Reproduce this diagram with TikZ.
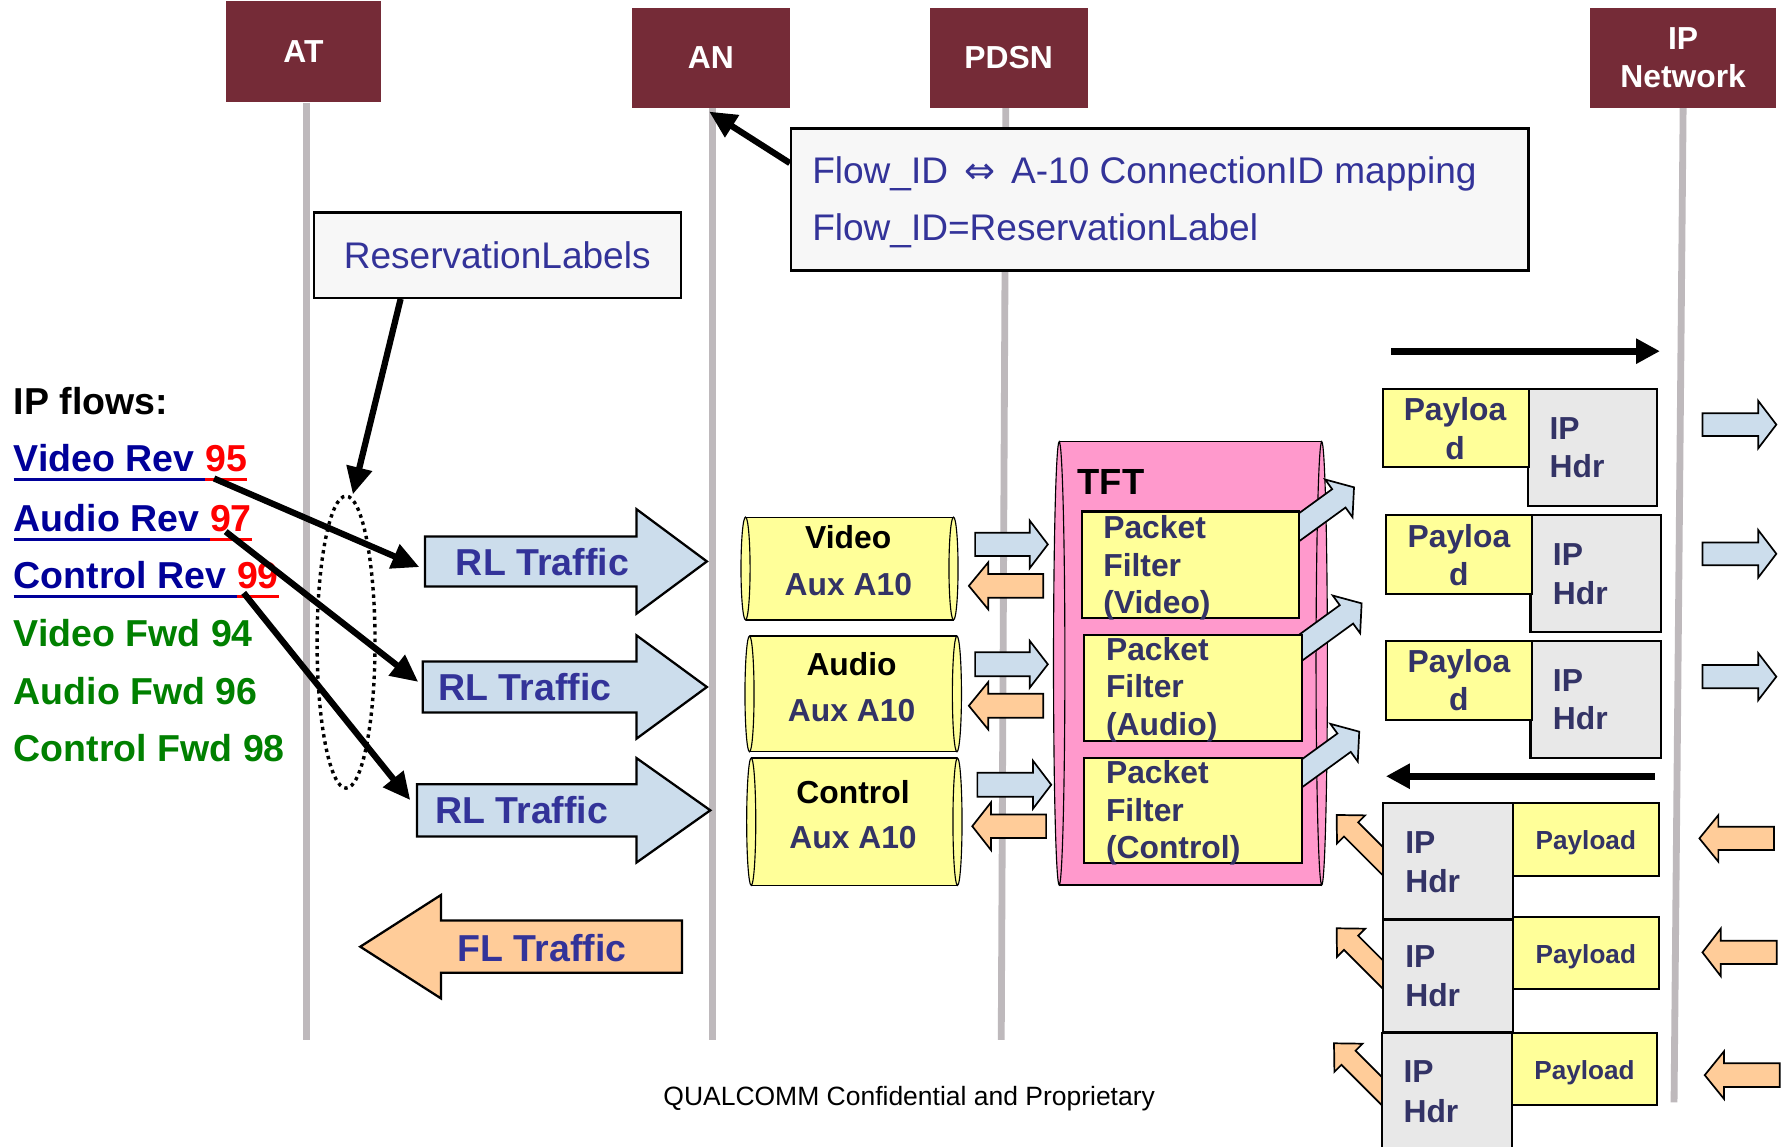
\documentclass[tikz,border=0pt]{standalone}
\usepackage{fontspec}
\setmainfont{Liberation Sans}
\newfontfamily\djv{DejaVu Sans}
\usetikzlibrary{arrows.meta,shapes.geometric}
\definecolor{cHdr}{RGB}{117,43,55}
\definecolor{cLife}{RGB}{190,185,188}
\definecolor{cLBlue}{RGB}{204,221,236}
\definecolor{cPeach}{RGB}{255,204,153}
\definecolor{cYel}{RGB}{255,255,153}
\definecolor{cPink}{RGB}{255,153,204}
\definecolor{cGray}{RGB}{232,232,232}
\definecolor{cBoxBg}{RGB}{247,247,247}
\definecolor{cNavy}{RGB}{51,51,153}
\definecolor{cDNavy}{RGB}{51,51,102}
\definecolor{cRevBlue}{RGB}{0,0,153}
\definecolor{cFwdGreen}{RGB}{0,128,0}
\newcommand\rarr[7]{\filldraw[#7] (#1,{#4-#5}) -- (#2,{#4-#5}) -- (#2,{#4-#6}) -- (#3,#4) -- (#2,{#4+#6}) -- (#2,{#4+#5}) -- (#1,{#4+#5}) -- cycle;}
\newcommand\mycyl[6]{%
 \pgfmathsetmacro\cyh{(#4-#2)/2}%
 \pgfmathsetmacro\cym{(#4+#2)/2}%
 \fill[#5] ({#1+#6},#2) -- ({#3-#6},#2) arc[start angle=90,end angle=-90,x radius=#6pt,y radius=\cyh pt] -- ({#1+#6},#4) arc[start angle=270,end angle=90,x radius=#6pt,y radius=\cyh pt] -- cycle;
 \draw[line width=1pt] ({#1+#6},#2) -- ({#3-#6},#2) ({#1+#6},#4) -- ({#3-#6},#4);
 \draw[line width=1pt] ({#1+#6},\cym) ellipse [x radius=#6pt, y radius=\cyh pt];
 \draw[line width=1pt] ({#3-#6},\cym) ellipse [x radius=#6pt, y radius=\cyh pt];
}
\tikzset{
 hdrbox/.style={fill=cHdr, inner sep=0pt, text=white, font=\bfseries\fontsize{28}{33.5}\selectfont, align=center},
 life/.style={draw=cLife, line width=6pt},
 notebox/.style={fill=cBoxBg, draw=black, line width=2pt, inner sep=0pt},
 notetxt/.style={text=cNavy, font=\fontsize{32.6}{38}\selectfont, inner sep=0pt},
 flowtxt/.style={font=\bfseries\fontsize{33}{38}\selectfont, inner sep=0pt, anchor=base west},
 thickarr/.style={line width=5.5pt, -{Triangle[length=24pt,width=22pt]}},
 bigblue/.style={fill=cLBlue, draw=black, line width=2pt},
 bigpeach/.style={fill=cPeach, draw=black, line width=2pt},
 smallblue/.style={fill=cLBlue, draw=black, line width=1.5pt},
 smallpeach/.style={fill=cPeach, draw=black, line width=1.5pt},
 trafftxt/.style={text=cNavy, font=\bfseries\fontsize{33}{38}\selectfont, inner sep=0pt, anchor=base west},
 cyltxt/.style={font=\bfseries\fontsize{28}{33}\selectfont, inner sep=0pt, anchor=base},
 pftxt/.style={text=cDNavy, font=\bfseries\fontsize{28}{33}\selectfont, inner sep=0pt, anchor=base west},
 pktxt/.style={text=cDNavy, font=\bfseries\fontsize{28}{33}\selectfont, inner sep=0pt},
 pltxt/.style={text=cDNavy, font=\bfseries\fontsize{23}{28}\selectfont, inner sep=0pt, anchor=base},
 yelbox/.style={fill=cYel, draw=black, line width=2pt},
 graybox/.style={fill=cGray, draw=black, line width=2pt},
 blackarr/.style={line width=6pt, -{Triangle[length=21pt,width=21pt]}},
}
\begin{document}
\begin{tikzpicture}[x=1pt,y=-1pt]
\fill[white] (0,0) rectangle (1568,1009);
\useasboundingbox (0,0) rectangle (1568,1009);

% headers
\node[hdrbox, minimum width=136pt, minimum height=89pt] (at) at (267,45.5) {AT};
\node[hdrbox, minimum width=139pt, minimum height=88pt] (an) at (625.5,51) {AN};
\node[hdrbox, minimum width=139pt, minimum height=88pt] (pdsn) at (887.5,51) {PDSN};
\node[hdrbox, minimum width=164pt, minimum height=88pt] (ipn) at (1481,51) {IP\\Network};

% lifelines
\coordinate (atend) at (270,915);
\coordinate (anend) at (627,915);
\coordinate (pdend) at (881,915);
\coordinate (ipend) at (1473,970);
\draw[life] (at.south -| atend) -- (atend);
\draw[life] (an.south -| anend) -- (anend);
\draw[life] ([xshift=-2.5pt]pdsn.south) -- (pdend);
\draw[life] (ipn.south) -- (ipend);

% notes
\node[notebox, notetxt, minimum width=323pt, minimum height=75pt] (resv) at (437.5,224.5) {ReservationLabels};
\node[notebox, minimum width=649pt, minimum height=125pt] (mapbox) at (1020.5,175.5) {};
\node[notetxt, anchor=base west] (map1) at (714.5,161.3) {Flow\_ID\hspace{5pt} {\djv ⇔}\hspace{5pt} A-10 ConnectionID mapping};
\node[notetxt, anchor=base west] (map2) at (714.5,211.8) {Flow\_ID=ReservationLabel};
\draw[thickarr] ([yshift=32pt]mapbox.west) -- ([xshift=-1.5pt,yshift=-3pt]an.south);

% dotted ellipse
\node[draw=black, dash pattern=on 3pt off 3.5pt, line width=3pt, ellipse, minimum width=51pt, minimum height=257pt, inner sep=0pt] (ell) at (304.5,565) {};
\draw[thickarr] ([xshift=-85pt]resv.south) -- ([xshift=6pt]ell.north);

% IP flows
\node[flowtxt] (ipf) at (12,365) {IP flows:};
\node[flowtxt, text=cRevBlue] (vr1) at (12,415) {Video Rev};
\node[flowtxt, text=red] (vr2) at ([xshift=9pt]vr1.base east) {95};
\node[flowtxt, text=cRevBlue] (ar1) at (12,467.8) {Audio Rev};
\node[flowtxt, text=red] (ar2) at ([xshift=9pt]ar1.base east) {97};
\node[flowtxt, text=cRevBlue] (cr1) at (12,517.7) {Control Rev};
\node[flowtxt, text=red] (cr2) at ([xshift=9pt]cr1.base east) {99};
\node[flowtxt, text=cFwdGreen] (vf) at (12,569) {Video Fwd 94};
\node[flowtxt, text=cFwdGreen] (af) at (12,619.7) {Audio Fwd 96};
\node[flowtxt, text=cFwdGreen] (cf) at (12,670.2) {Control Fwd 98};
\foreach \a/\b in {vr1/vr2,ar1/ar2,cr1/cr2}{
 \draw[cRevBlue, line width=3pt] ([yshift=-7pt]\a.base west) -- ([yshift=-7pt]\b.base west);
 \draw[red, line width=3pt] ([yshift=-7pt]\b.base west) -- ([yshift=-7pt]\b.base east);
}

% RL / FL traffic arrows
\rarr{374}{560}{622}{494}{22}{46}{bigblue}
\rarr{372}{560}{622}{604.5}{22.5}{45.5}{bigblue}
\rarr{367}{560}{625}{713}{23}{46}{bigblue}
\rarr{600}{388}{317}{833}{23}{45.5}{bigpeach}
\node[trafftxt] (rl1) at (401,506.8) {RL Traffic};
\node[trafftxt] (rl2) at (385.7,616.5) {RL Traffic};
\node[trafftxt] (rl3) at (382.8,724.5) {RL Traffic};
\node[trafftxt] (fl) at (402.5,845.6) {FL Traffic};
\coordinate (rl1in) at (369,499);
\coordinate (rl2in) at (368,600);
\coordinate (rl3in) at (361,704);
\draw[thickarr] ([xshift=8pt,yshift=-6pt]vr2.base west) -- (rl1in);
\draw[thickarr] ([xshift=14pt]ar2.base west) -- (rl2in);
\draw[thickarr] ([xshift=6pt,yshift=-4pt]cr2.base west) -- (rl3in);

% Aux A10 cylinders
\mycyl{652}{455}{843}{545.5}{cYel}{4}
\mycyl{655.5}{559.6}{846}{661.5}{cYel}{4}
\mycyl{657}{667}{846.5}{779}{cYel}{4}
\node[cyltxt] (cv1) at (746.3,482.5) {Video};
\node[cyltxt, text=cDNavy] (cv2) at (746.5,524.4) {Aux A10};
\node[cyltxt] (ca1) at (749.3,594) {Audio};
\node[cyltxt, text=cDNavy] (ca2) at (749.3,635) {Aux A10};
\node[cyltxt] (cc1) at (750.6,706.8) {Control};
\node[cyltxt, text=cDNavy] (cc2) at (750.6,746.4) {Aux A10};

% small arrows cylinder <-> TFT
\rarr{858}{906}{922}{479}{10.2}{21}{smallblue}
\rarr{918}{869.5}{852.5}{515.5}{10.5}{20.6}{smallpeach}
\rarr{858}{906}{922}{584.5}{10.5}{20.7}{smallblue}
\rarr{918}{869.5}{852.5}{621}{10.5}{20.8}{smallpeach}
\rarr{860}{909}{925}{690.5}{10.5}{21}{smallblue}
\rarr{920.5}{872}{855.5}{727}{10.3}{21}{smallpeach}

% TFT
\mycyl{927}{388.6}{1168}{778.7}{cPink}{5}
\node[flowtxt, font=\bfseries\fontsize{32}{38}\selectfont] (tft) at (948,434.7) {TFT};
\foreach \tx/\ty in {1191.4/428.8, 1198.1/530.9, 1196/643.8}{
 \begin{scope}[shift={(\tx,\ty)}, rotate=36]
  \filldraw[smallblue] (0,0) -- (-16.5,20.5) -- (-16.5,10) -- (-75,10) -- (-75,-10) -- (-16.5,-10) -- (-16.5,-20.5) -- cycle;
 \end{scope}
}
\draw[yelbox] (951.8,450) rectangle (1143,543.8);
\draw[yelbox] (954,558.7) rectangle (1145.6,651.7);
\draw[yelbox] (954,666.7) rectangle (1145.6,759.5);
\node[pftxt] (pv1) at (970.6,473.6) {Packet};
\node[pftxt] (pv2) at (970.6,507.4) {Filter};
\node[pftxt] (pv3) at (970.6,539.6) {(Video)};
\node[pftxt] (pa1) at (973,580.8) {Packet};
\node[pftxt] (pa2) at (973,614) {Filter};
\node[pftxt] (pa3) at (973,646.8) {(Audio)};
\node[pftxt] (pc1) at (973,689) {Packet};
\node[pftxt] (pc2) at (973,723) {Filter};
\node[pftxt] (pc3) at (973,755) {(Control)};

% direction arrows at right
\coordinate (tops) at (1224,309);
\coordinate (tope) at (1460.6,309);
\coordinate (bots) at (1456,683);
\coordinate (bote) at (1219.5,683);
\draw[blackarr] (tops) -- (tope);
\draw[blackarr] (bots) -- (bote);

% outgoing packets
\draw[graybox] (1344.2,342.3) rectangle (1458.3,445);
\draw[yelbox] (1217.2,342.3) rectangle (1345.5,411.2);
\draw[graybox] (1346.8,453.1) rectangle (1461.2,556.4);
\draw[yelbox] (1219.5,453.1) rectangle (1347.7,522.7);
\draw[graybox] (1346.8,564) rectangle (1461.2,666.7);
\draw[yelbox] (1219.5,564) rectangle (1347.7,633.5);
\node[pktxt, anchor=base] (p1a) at (1280.3,370.2) {Payloa};
\node[pktxt, anchor=base] (p1b) at (1280.3,404) {d};
\node[pktxt, anchor=base west] (h1a) at (1363.3,386.6) {IP};
\node[pktxt, anchor=base west] (h1b) at (1363.3,420.3) {Hdr};
\node[pktxt, anchor=base] (p2a) at (1283.7,481.6) {Payloa};
\node[pktxt, anchor=base] (p2b) at (1283.7,515.3) {d};
\node[pktxt, anchor=base west] (h2a) at (1366.2,498) {IP};
\node[pktxt, anchor=base west] (h2b) at (1366.2,532.3) {Hdr};
\node[pktxt, anchor=base] (p3a) at (1283.7,591.9) {Payloa};
\node[pktxt, anchor=base] (p3b) at (1283.7,625.6) {d};
\node[pktxt, anchor=base west] (h3a) at (1366.2,608.6) {IP};
\node[pktxt, anchor=base west] (h3b) at (1366.2,642.3) {Hdr};
\rarr{1498}{1547}{1563}{373.6}{10}{21}{smallblue}
\rarr{1498}{1547}{1563}{487.3}{10}{21}{smallblue}
\rarr{1498}{1547}{1563}{595.4}{10.2}{20.8}{smallblue}

% incoming packets
\foreach \tx/\ty in {1176.1/717.1, 1176.1/816.8, 1173.8/918}{
 \begin{scope}[shift={(\tx,\ty)}, rotate=135]
  \filldraw[smallpeach] (0,0) -- (-18,17.5) -- (-18,8.8) -- (-70,8.8) -- (-70,-8.8) -- (-18,-8.8) -- (-18,-17.5) -- cycle;
 \end{scope}
}
\draw[graybox] (1217.2,706.3) rectangle (1331,808.9);
\draw[yelbox] (1331,706.3) rectangle (1459.7,770.5);
\draw[graybox] (1217.2,809.5) rectangle (1331,907.8);
\draw[yelbox] (1331,806.6) rectangle (1459.7,870.5);
\draw[graybox] (1215.7,908.7) rectangle (1330.1,1015);
\draw[yelbox] (1330.1,908.7) rectangle (1458.3,972.3);
\node[pktxt, anchor=base west] (h4a) at (1236.3,750.9) {IP};
\node[pktxt, anchor=base west] (h4b) at (1236.3,785.5) {Hdr};
\node[pltxt] (p4) at (1395.4,747.4) {Payload};
\node[pktxt, anchor=base west] (h5a) at (1236.3,851.2) {IP};
\node[pktxt, anchor=base west] (h5b) at (1236.3,885.2) {Hdr};
\node[pltxt] (p5) at (1395.4,847.6) {Payload};
\node[pktxt, anchor=base west] (h6a) at (1234.8,952.6) {IP};
\node[pktxt, anchor=base west] (h6b) at (1234.8,987.8) {Hdr};
\node[pltxt] (p6) at (1394.2,949.7) {Payload};
\rarr{1561}{1512}{1495.3}{737.7}{10.2}{20.5}{smallpeach}
\rarr{1563.3}{1514}{1498}{838}{10.2}{20.8}{smallpeach}
\rarr{1566}{1517}{1500}{946}{10.5}{21}{smallpeach}

% footer
\node[inner sep=0pt, anchor=base, font=\fontsize{23.3}{28}\selectfont] (foot) at (800,973) {QUALCOMM Confidential and Proprietary};
\end{tikzpicture}
\end{document}
